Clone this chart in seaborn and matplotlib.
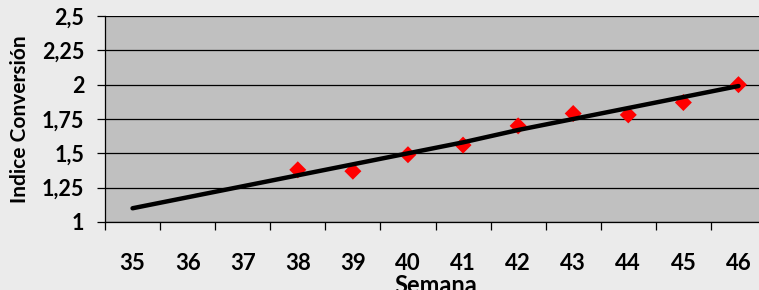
import matplotlib
matplotlib.use("Agg")
import matplotlib.pyplot as plt
import seaborn as sns
import pandas as pd
from matplotlib.ticker import FixedLocator, FuncFormatter

weeks = [35, 36, 37, 38, 39, 40, 41, 42, 43, 44, 45, 46]
trend = [1.10, 1.18, 1.26, 1.34, 1.42, 1.50, 1.58, 1.67, 1.75, 1.83, 1.91, 1.99]
obs_weeks = [38, 39, 40, 41, 42, 43, 44, 45, 46]
obs_values = [1.38, 1.37, 1.49, 1.56, 1.70, 1.79, 1.78, 1.87, 2.00]
y_ticks = [1.0, 1.25, 1.5, 1.75, 2.0, 2.25, 2.5]

sns.set_style("white")
plt.rcParams["font.family"] = ["Lato", "DejaVu Sans"]

fig = plt.figure(figsize=(7.59, 2.90), dpi=100)
fig.patch.set_facecolor("#EBEBEB")
ax = fig.add_axes([105 / 759, 1 - 222 / 290, 661 / 759, 206 / 290])
ax.set_facecolor("#C0C0C0")

df_line = pd.DataFrame({"Semana": weeks, "val": trend})
df_obs = pd.DataFrame({"Semana": obs_weeks, "val": obs_values})

sns.scatterplot(data=df_obs, x="Semana", y="val", ax=ax, marker="D", s=75,
                color="#FF0000", edgecolor="none", zorder=3)
sns.lineplot(data=df_line, x="Semana", y="val", ax=ax, color="black",
             linewidth=3.2, zorder=4)

ax.set_xlim(34.5, 46.5)
ax.set_ylim(1.0, 2.5)
ax.set_yticks(y_ticks)
ax.yaxis.set_major_formatter(FuncFormatter(lambda v, p: f"{v:g}".replace(".", ",")))
ax.set_xticks(weeks)
ax.set_xticklabels([str(w) for w in weeks])
ax.xaxis.set_minor_locator(FixedLocator([w - 0.5 for w in weeks] + [46.5]))

ax.grid(axis="y", color="black", linewidth=0.9)
ax.grid(axis="x", visible=False)
ax.set_axisbelow(True)

for s in ["top", "right"]:
    ax.spines[s].set_visible(False)
ax.spines["left"].set_color("black")
ax.spines["left"].set_linewidth(0.9)
ax.spines["bottom"].set_color("black")
ax.spines["bottom"].set_linewidth(0.9)

ax.tick_params(axis="x", which="major", length=0, pad=22, labelsize=16)
ax.tick_params(axis="x", which="minor", length=6, width=0.9, color="black", direction="out", bottom=True)
ax.tick_params(axis="y", which="major", length=6, width=0.9, color="black", direction="out", left=True, pad=9, labelsize=15.5)
for lab in ax.get_xticklabels() + ax.get_yticklabels():
    lab.set_fontweight("bold")
    lab.set_color("black")

ax.set_xlabel("Semana", fontsize=17, fontweight="bold", color="black")
ax.xaxis.set_label_coords(0.5, -0.252)
ax.xaxis.label.set_va("top")
ax.set_ylabel("Indice Conversión", fontsize=15, fontweight="bold", color="black")
ax.yaxis.set_label_coords(-0.128, 0.5)
ax.yaxis.label.set_va("center")

fig.savefig("out.png", dpi=100, facecolor=fig.get_facecolor())
